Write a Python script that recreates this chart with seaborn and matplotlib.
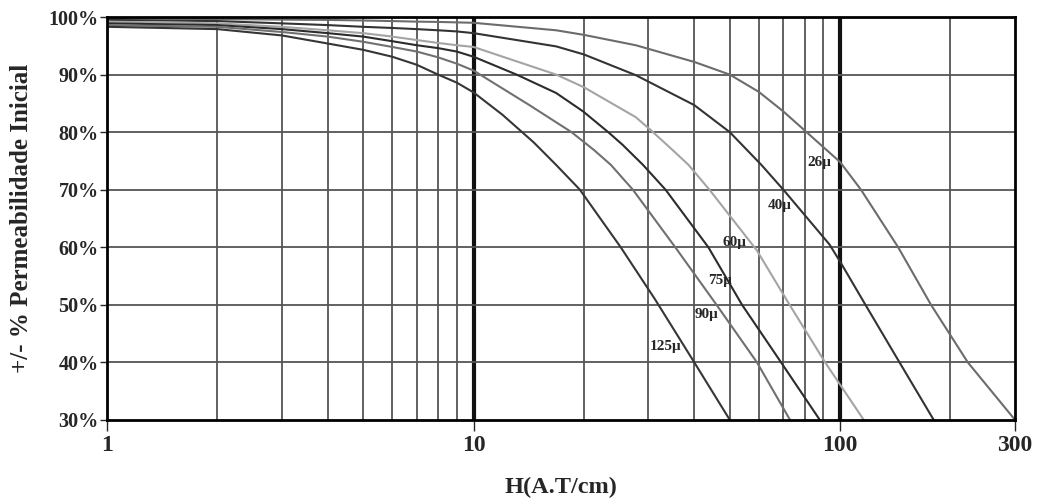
import seaborn as sns
import matplotlib
matplotlib.use("Agg")
import matplotlib.pyplot as plt
from matplotlib.ticker import FixedLocator, NullFormatter
import pandas as pd

# curve readings, H (A.T/cm) vs % of initial permeability
h_26 = [1, 2, 3, 4, 5, 6, 7, 8, 10, 16.8, 20, 27.7, 40, 50, 60, 70, 81, 100, 114, 144, 177, 223, 300]
p_26 = [99.8, 99.65, 99.55, 99.5, 99.4, 99.3, 99.2, 99.15, 99.0, 97.7, 96.9, 95.1, 92.2, 90.0, 87.0, 83.6, 80.0, 74.8, 70.0, 60.0, 50.0, 40.0, 30.0]

h_40 = [1, 2, 3, 4, 5, 6, 7, 8, 9, 10, 16.8, 20, 27.7, 40, 50, 61, 70, 93.5, 100, 116, 140, 180]
p_40 = [99.5, 99.3, 98.9, 98.6, 98.3, 98.1, 97.9, 97.7, 97.5, 97.2, 94.9, 93.5, 89.9, 84.7, 80.0, 74.3, 70.0, 60.5, 57.5, 50.5, 41.7, 30.0]

h_60 = [1, 2, 3, 4, 5, 6, 7, 8, 9, 10, 16.8, 20, 27.7, 30.5, 34.9, 38.6, 44, 59.2, 72.8, 91, 116]
p_60 = [99.2, 98.9, 98.3, 97.7, 97.2, 96.6, 96.0, 95.5, 95.1, 94.8, 90.0, 87.8, 82.6, 80.3, 76.9, 74.3, 70.0, 59.5, 50.0, 40.0, 30.0]

h_75 = [1, 2, 3, 4, 5, 6, 7, 8, 9, 10, 13.1, 16.8, 19.9, 23.3, 25.5, 29, 33.4, 43.7, 54, 69, 88]
p_75 = [98.9, 98.6, 97.9, 97.2, 96.6, 95.8, 95.1, 94.6, 94.0, 93.1, 90.0, 86.8, 83.6, 80.0, 77.8, 74.3, 70.0, 60.0, 50.0, 40.0, 30.0]

h_90 = [1, 2, 3, 4, 5, 6, 7, 8, 9, 10, 14.2, 18.5, 21.3, 23.7, 27.2, 35.5, 46, 59.3, 73]
p_90 = [98.6, 98.3, 97.4, 96.6, 95.7, 94.8, 94.0, 93.0, 91.9, 90.7, 84.7, 80.0, 76.9, 74.3, 70.0, 60.0, 50.0, 40.0, 30.0]

h_125 = [1, 2, 3, 4, 5, 6, 7, 8, 9, 10, 12, 14.6, 16.8, 19.5, 25.2, 31.3, 40, 50]
p_125 = [98.3, 97.9, 96.8, 95.4, 94.3, 93.1, 91.7, 90.0, 88.6, 86.9, 83.0, 78.2, 74.3, 70.0, 60.0, 50.9, 40.0, 30.0]

grades = ["26μ", "40μ", "60μ", "75μ", "90μ", "125μ"]
colors = ["#6c6c6c", "#333333", "#a4a4a4", "#2c2c2c", "#707070", "#363636"]

# label anchor points (data coords)
lab_h = [88, 68.5, 51.5, 47.0, 43.3, 33.4]
lab_p = [74.8, 67.2, 60.9, 54.2, 48.3, 42.7]

x_ticks = [1, 10, 100, 300]
x_minor = [2, 3, 4, 5, 6, 7, 8, 9, 20, 30, 40, 50, 60, 70, 80, 90, 200]
y_ticks = [30, 40, 50, 60, 70, 80, 90, 100]

frames = []
for g, h, p in zip(grades, [h_26, h_40, h_60, h_75, h_90, h_125],
                   [p_26, p_40, p_60, p_75, p_90, p_125]):
    frames.append(pd.DataFrame({"H": h, "perm": p, "grade": g}))
df = pd.concat(frames, ignore_index=True)

sns.set_style("white")
plt.rcParams["font.family"] = ["Liberation Serif", "DejaVu Serif"]
plt.rcParams["font.weight"] = "bold"

fig = plt.figure(figsize=(10.41, 5.01), dpi=100)
ax = fig.add_axes([0.1028, 0.162, 0.8722, 0.804])

ax.set_xscale("log")
ax.set_xlim(1, 300)
ax.set_ylim(30, 100)

# grid
for v in x_minor:
    ax.axvline(v, color="#555555", lw=1.3, zorder=1)
for v in [10, 100]:
    ax.axvline(v, color="#111111", lw=3.0, zorder=1)
for v in y_ticks[1:-1]:
    ax.axhline(v, color="#555555", lw=1.3, zorder=1)

sns.lineplot(data=df, x="H", y="perm", hue="grade", palette=dict(zip(grades, colors)),
             sort=False, estimator=None, lw=1.5, legend=False, ax=ax, zorder=3)

for g, x, y in zip(grades, lab_h, lab_p):
    ax.text(x, y, g, fontsize=11, fontweight="bold", ha="center", va="center", zorder=4)

ax.xaxis.set_major_locator(FixedLocator(x_ticks))
ax.xaxis.set_minor_locator(FixedLocator(x_minor))
ax.xaxis.set_minor_formatter(NullFormatter())
ax.set_xticklabels([str(t) for t in x_ticks], fontsize=17, fontweight="bold")
ax.set_yticks(y_ticks)
ax.set_yticklabels([f"{t}%" for t in y_ticks], fontsize=14.5, fontweight="bold")
ax.tick_params(axis="x", which="major", direction="out", length=8, width=1, pad=3, bottom=True)
ax.tick_params(axis="x", which="minor", length=0)
ax.tick_params(axis="y", direction="out", length=5, width=1, pad=1, left=True)

for s in ax.spines.values():
    s.set_visible(True)
    s.set_color("black")
    s.set_linewidth(2.0)
    s.set_zorder(5)

ax.set_xlabel("")
fig.text(0.5 * (107 + 1015) / 1041, 0.027, "H(A.T/cm)", fontsize=17.5, fontweight="bold",
         ha="center", va="center")
ax.set_ylabel("+/- % Permeabilidade Inicial", fontsize=18, fontweight="bold")
ax.yaxis.set_label_coords(-0.081, 0.5)

fig.savefig("out.png", dpi=100)
